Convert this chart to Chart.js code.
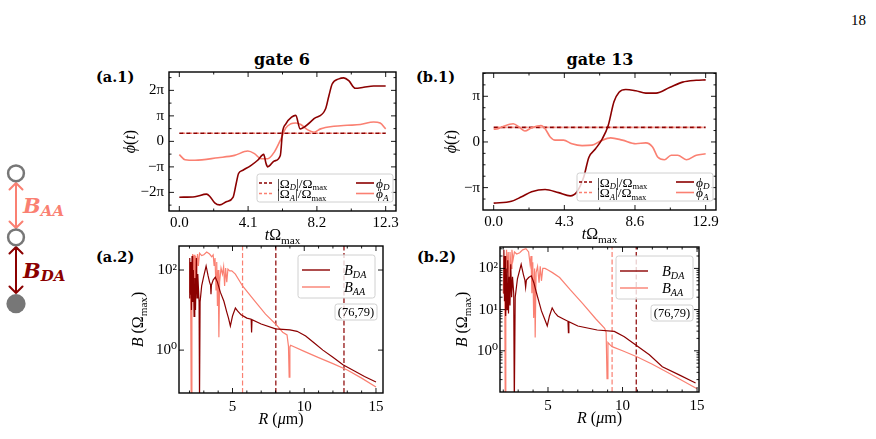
<!DOCTYPE html>
<html lang="en">
<head>
<meta charset="UTF-8">
<script src="https://cdn.jsdelivr.net/npm/chart.js"></script>
<style>
  html, body { margin: 0; background: #fff; }
  #page { position: relative; width: 876px; height: 439px; overflow: hidden; font-family: "Liberation Serif", "DejaVu Serif", serif; color: #000; }
  #page canvas, .txt, #sketch { position: absolute; }
  .txt { white-space: nowrap; line-height: 1; }
  .head { font-family: "DejaVu Serif", serif; font-weight: bold; font-size: 16px; width: 200px; text-align: center; }
  .tag { font-family: "DejaVu Serif", serif; font-weight: bold; font-size: 14.5px; }
</style>
</head>
<body>
<div id="page">
  <div class="txt" style="left:851px;top:13px;font-size:15px">18</div>
  <div class="txt head" style="left:182px;top:52px">gate 6</div>
  <div class="txt head" style="left:500px;top:52px">gate 13</div>
  <div class="txt tag" style="left:96px;top:70px">(a.1)</div>
  <div class="txt tag" style="left:416px;top:70px">(b.1)</div>
  <div class="txt tag" style="left:96px;top:250px">(a.2)</div>
  <div class="txt tag" style="left:417px;top:250px">(b.2)</div>

  <svg id="sketch" style="left:0;top:0" width="90" height="439">
    <g fill="none" stroke-width="2" stroke-linecap="round" stroke-linejoin="round">
      <path d="M16 183 V228 M9.5 189.5 L16 183 L22.5 189.5 M9.5 221.5 L16 228 L22.5 221.5" stroke="#fa8072"/>
      <path d="M16 247 V293 M9.5 253.5 L16 247 L22.5 253.5 M9.5 286.5 L16 293 L22.5 286.5" stroke="#8b0000"/>
    </g>
    <circle cx="16" cy="173.3" r="7.9" fill="#fff" stroke="#777" stroke-width="2.5"/>
    <circle cx="16" cy="237.3" r="7.9" fill="#fff" stroke="#777" stroke-width="2.5"/>
    <circle cx="16" cy="303.7" r="9.6" fill="#777"/>
    <text x="23" y="213" font-family="DejaVu Serif" font-weight="bold" font-style="italic" font-size="21" fill="#fa8072">B<tspan font-size="15" dy="3">AA</tspan></text>
    <text x="23" y="278" font-family="DejaVu Serif" font-weight="bold" font-style="italic" font-size="21" fill="#8b0000">B<tspan font-size="15" dy="3">DA</tspan></text>
  </svg>

  <canvas id="c1" width="327" height="195" style="left:89px;top:56px"></canvas>
  <canvas id="c2" width="333" height="193" style="left:403px;top:57px"></canvas>
  <canvas id="c3" width="304" height="203" style="left:99px;top:230px"></canvas>
  <canvas id="c4" width="299" height="201" style="left:420px;top:231px"></canvas>
</div>

<script>
// ---- gate 6, phases (units of pi) vs t*Omega_max
const tD6 = [0, 0.93, 1.62, 1.81, 2.11, 2.41, 2.8, 3.2, 3.39, 3.53, 3.79, 4.28, 4.67, 5.03, 5.17, 5.27, 5.66, 6.02, 6.15, 6.35, 6.69, 6.94, 7.2, 7.44, 8.03, 8.72, 8.92, 9.11, 9.51, 9.8, 10.1, 10.49, 10.99, 11.58, 12.3];
const phiD6 = [-2.19, -2.17, -2.07, -2.15, -2.41, -2.49, -2.37, -2.2, -1.65, -1.26, -1.13, -0.94, -0.74, -0.51, -0.87, -1.0, -0.77, -0.55, 0.36, 0.69, 0.95, 1.02, 0.49, 0.56, 0.89, 1.28, 1.8, 2.25, 2.45, 2.49, 2.38, 2.08, 2.12, 2.17, 2.17];
const tA6 = [0, 0.34, 0.93, 2.31, 3.29, 4.08, 4.48, 4.87, 5.27, 5.66, 6.06, 6.35, 6.65, 6.94, 7.24, 7.63, 8.03, 8.42, 9.21, 10.0, 10.79, 11.58, 11.97, 12.3];
const phiA6 = [-0.52, -0.72, -0.74, -0.64, -0.55, -0.38, -0.48, -0.68, -0.68, -0.42, 0.10, 0.53, 0.69, 0.72, 0.66, 0.46, 0.36, 0.49, 0.59, 0.63, 0.66, 0.76, 0.72, 0.49];
const tOm6 = [0, 12.3];
const omega6 = [0.32, 0.32];
const tTicks6 = [0, 4.1, 8.2, 12.3];
const phiTicks6 = [-2, -1, 0, 1, 2];

// ---- gate 13, phases
const tD13 = [0, 1.08, 1.7, 2.31, 3.13, 3.95, 4.66, 5.07, 5.48, 5.79, 6.2, 6.61, 6.97, 7.32, 7.63, 8.04, 8.65, 9.26, 9.88, 10.7, 11.5, 12.33, 12.9];
const phiD13 = [-1.34, -1.3, -1.2, -1.09, -1.04, -1.11, -1.18, -1.09, -0.77, -0.34, -0.15, 0.07, 0.36, 0.88, 1.09, 1.15, 1.12, 1.07, 1.07, 1.19, 1.31, 1.35, 1.36];
const tA13 = [0, 0.27, 0.57, 1.19, 1.6, 1.9, 2.31, 2.88, 3.13, 3.44, 3.74, 4.25, 4.76, 5.38, 5.99, 6.5, 7.12, 7.83, 8.65, 9.26, 9.67, 9.98, 10.39, 10.8, 11.2, 11.72, 12.33, 12.9];
const phiA13 = [0.28, 0.29, 0.34, 0.40, 0.31, 0.24, 0.31, 0.36, 0.29, 0.11, 0.04, 0.04, -0.04, -0.08, -0.07, 0.02, 0.09, 0.04, -0.04, -0.02, -0.11, -0.33, -0.39, -0.29, -0.29, -0.39, -0.29, -0.26];
const tOm13 = [0, 12.9];
const omega13 = [0.32, 0.32];
const tTicks13 = [0, 4.3, 8.6, 12.9];
const phiTicks13 = [-1, 0, 1];

// ---- gate 6, couplings B (Omega_max) vs R (um)
const rAA6 = [1.98, 2.03, 2.08, 2.12, 2.17, 2.22, 2.27, 2.32, 2.38, 2.43, 2.5, 2.56, 2.62, 2.7, 2.85, 3.0, 3.2, 3.4, 3.55, 3.65, 3.72, 3.78, 3.85, 3.9, 3.95, 4.0, 4.05, 4.1, 4.2, 4.3, 4.38, 4.45, 4.52, 4.6, 4.68, 4.8, 4.95, 5.2, 5.7, 6.5, 7.3, 8.0, 8.5, 8.8, 8.9, 8.95, 9.0, 9.05, 10, 11, 12, 13, 14, 15];
const bAA6 = [28, 158, 40, 0.05, 79, 251, 63, 240, 32, 224, 79, 251, 126, 263, 229, 240, 282, 251, 214, 240, 126, 200, 32, 158, 12.6, 100, 2.1, 50, 112, 79, 120, 40, 112, 50, 105, 95, 95, 79, 40, 17.8, 7.9, 4.5, 2.8, 2.4, 1.26, 0.21, 1.2, 1.32, 0.93, 0.65, 0.46, 0.32, 0.2, 0.12];
const rDA6 = [1.98, 2.02, 2.06, 2.1, 2.14, 2.18, 2.22, 2.27, 2.32, 2.37, 2.42, 2.48, 2.53, 2.58, 2.63, 2.67, 2.7, 2.74, 2.85, 3.0, 3.16, 3.3, 3.4, 3.47, 3.5, 3.53, 3.65, 3.8, 3.95, 4.15, 4.4, 4.6, 4.72, 4.85, 5.0, 5.2, 5.35, 5.6, 6.0, 6.3, 6.33, 6.36, 7.0, 8.0, 9.0, 9.5, 10.1, 10.7, 11.3, 12.0, 12.7, 13.5, 14.2, 15];
const bDA6 = [20, 200, 25, 158, 10, 224, 16, 100, 7, 63, 10, 200, 20, 79, 32, 16, 0.05, 16, 40, 71, 126, 71, 50, 42, 25, 42, 56, 66, 50, 28, 16.6, 8.9, 6.3, 4.0, 7.1, 11.2, 9.5, 7.6, 6.3, 5.9, 2.75, 5.75, 4.5, 3.4, 3.2, 2.95, 2.24, 1.5, 1.0, 0.66, 0.43, 0.3, 0.22, 0.16];
const cutAA6 = [5.7];
const cutDA6 = [8.02, 12.77];
const bRange6 = [0.085, 398];

// ---- gate 13, couplings
const rAA13 = [2.0, 2.05, 2.1, 2.13, 2.17, 2.22, 2.27, 2.33, 2.4, 2.45, 2.52, 2.58, 2.65, 2.75, 2.9, 3.1, 3.3, 3.52, 3.7, 3.8, 3.86, 3.92, 3.98, 4.04, 4.1, 4.14, 4.2, 4.3, 4.4, 4.48, 4.56, 4.65, 4.8, 5.0, 5.3, 5.78, 6.5, 7.33, 8.2, 8.8, 8.9, 8.96, 9.02, 9.15, 9.3, 10, 11, 12, 13, 14, 15];
const bAA13 = [25, 200, 32, 0.05, 100, 282, 79, 251, 40, 251, 100, 282, 158, 251, 224, 240, 282, 302, 251, 126, 200, 25, 141, 6.3, 100, 2.1, 79, 112, 45, 112, 50, 100, 100, 91, 79, 60, 30, 14, 6, 3.5, 2.8, 0.21, 1.58, 1.41, 1.26, 1.0, 0.71, 0.47, 0.3, 0.19, 0.12];
const rDA13 = [2.0, 2.04, 2.08, 2.12, 2.16, 2.2, 2.25, 2.3, 2.35, 2.4, 2.45, 2.5, 2.56, 2.62, 2.7, 2.74, 2.8, 2.95, 3.2, 3.35, 3.45, 3.5, 3.55, 3.7, 3.88, 4.05, 4.22, 4.56, 4.8, 4.95, 5.1, 5.28, 5.45, 5.65, 6.0, 6.34, 6.37, 6.4, 7.0, 8.3, 9.45, 10.12, 10.89, 11.8, 12.67, 13.8, 14.9];
const bDA13 = [25, 282, 16, 200, 7, 100, 10, 158, 8, 63, 12.6, 126, 20, 63, 25, 0.05, 20, 56, 126, 71, 52, 35, 52, 60, 66, 45, 26, 9.3, 5.6, 4.0, 7.0, 11, 8.5, 7.0, 6.0, 5.2, 2.75, 5.1, 4.0, 3.2, 2.95, 2.2, 1.38, 0.8, 0.41, 0.26, 0.166];
const cutAA13 = [9.3];
const cutDA13 = [10.92];
const bRange13 = [0.1, 331];

const rTicks = [5, 10, 15];
const bTicks6 = [1, 100];
const bTicks13 = [1, 10, 100];

const FAM = '"Liberation Serif", "DejaVu Serif", serif';
const DARK = '#8b0000';
const SAL = '#fa8072';

const pts = (xs, ys) => xs.map((x, k) => ({ x, y: ys[k] }));

// text with italic / subscript pieces, drawn left to right
function rich(ctx, parts, x, y, size, align, sub) {
  const sr = sub || 0.7;
  const fonts = parts.map(p => (p.i ? 'italic ' : '') + (p.s ? size * sr : size) + 'px ' + FAM);
  let w = 0;
  parts.forEach((p, k) => { ctx.font = fonts[k]; w += ctx.measureText(p.t).width; });
  let cx = align === 'center' ? x - w / 2 : align === 'right' ? x - w : x;
  ctx.textAlign = 'left';
  ctx.textBaseline = 'alphabetic';
  parts.forEach((p, k) => {
    ctx.font = fonts[k];
    const dy = p.s === -1 ? size * 0.22 : p.s === 1 ? -size * 0.4 : 0;
    ctx.fillText(p.t, cx, y + dy);
    cx += ctx.measureText(p.t).width;
  });
}

function legendBox(ctx, x, y, w, h) {
  ctx.beginPath();
  if (ctx.roundRect) ctx.roundRect(x, y, w, h, 2.5); else ctx.rect(x, y, w, h);
  ctx.fillStyle = 'rgba(255,255,255,0.8)';
  ctx.fill();
  ctx.strokeStyle = '#d0d0d0';
  ctx.lineWidth = 1;
  ctx.stroke();
}

function sample(ctx, x0, x1, y, color, dash, lw) {
  ctx.beginPath();
  ctx.setLineDash(dash);
  ctx.strokeStyle = color;
  ctx.lineWidth = lw;
  ctx.moveTo(x0, y);
  ctx.lineTo(x1, y);
  ctx.stroke();
  ctx.setLineDash([]);
}

const OM_D = [{ t: '|Ω' }, { t: 'D', i: 1, s: -1 }, { t: '|/Ω' }, { t: 'max', s: -1 }];
const OM_A = [{ t: '|Ω' }, { t: 'A', i: 1, s: -1 }, { t: '|/Ω' }, { t: 'max', s: -1 }];
const PH_D = [{ t: 'ϕ', i: 1 }, { t: 'D', i: 1, s: -1 }];
const PH_A = [{ t: 'ϕ', i: 1 }, { t: 'A', i: 1, s: -1 }];
const B_DA = [{ t: 'B', i: 1 }, { t: 'DA', i: 1, s: -1 }];
const B_AA = [{ t: 'B', i: 1 }, { t: 'AA', i: 1, s: -1 }];

function phiLegend(ctx, a) {
  const w = 136, h = 28, L = a.right - 3 - w, T = a.bottom - 9 - h;
  legendBox(ctx, L, T, w, h);
  const r1 = T + 9, r2 = T + 19.5;
  sample(ctx, L + 2, L + 17, r1, DARK, [3, 2], 1.6);
  ctx.fillStyle = '#000';
  rich(ctx, OM_D, L + 20, r1 + 4.5, 13.5, 'left', 0.64);
  sample(ctx, L + 2, L + 17, r2, SAL, [3, 2], 1.6);
  ctx.fillStyle = '#000';
  rich(ctx, OM_A, L + 20, r2 + 4.5, 13.5, 'left', 0.64);
  sample(ctx, L + 99, L + 117, r1, DARK, [], 1.6);
  ctx.fillStyle = '#000';
  rich(ctx, PH_D, L + 119, r1 + 4.5, 13.5, 'left', 0.68);
  sample(ctx, L + 99, L + 117, r2, SAL, [], 1.6);
  ctx.fillStyle = '#000';
  rich(ctx, PH_A, L + 119, r2 + 4.5, 13.5, 'left', 0.68);
}

function bLegend(ctx, a, gap) {
  const w = 77, h = 43, L = a.right - gap - w, T = a.top + 9;
  legendBox(ctx, L, T, w, h);
  sample(ctx, L + 4, L + 32, T + 15, DARK, [], 1.4);
  ctx.fillStyle = '#000';
  rich(ctx, B_DA, L + 46, T + 20, 14.5);
  sample(ctx, L + 4, L + 32, T + 32, SAL, [], 1.4);
  ctx.fillStyle = '#000';
  rich(ctx, B_AA, L + 46, T + 37, 14.5);
  const tw = 42, th = 16, tL = a.right - 6 - tw, tT = a.top + 58;
  legendBox(ctx, tL, tT, tw, th);
  ctx.fillStyle = '#000';
  ctx.font = '12.5px ' + FAM;
  ctx.textAlign = 'center';
  ctx.textBaseline = 'alphabetic';
  ctx.fillText('(76,79)', tL + tw / 2, tT + 12);
}

function minorLin(majors, div, lo, hi) {
  const step = (majors[1] - majors[0]) / div;
  const out = [];
  let v = majors[0] - step * Math.floor((majors[0] - lo) / step);
  for (; v <= hi + 1e-9; v += step) {
    if (!majors.some(m => Math.abs(m - v) < step / 10)) out.push(v);
  }
  return out;
}

function minorLog(lo, hi) {
  const out = [];
  for (let e = -2; e <= 3; e++) {
    for (let m = 2; m <= 9; m++) {
      const v = m * Math.pow(10, e);
      if (v > lo && v < hi) out.push(v);
    }
  }
  return out;
}

const PHI_T = [{ t: 'ϕ', i: 1 }, { t: '(' }, { t: 't', i: 1 }, { t: ')' }];
const TIME_T = [{ t: 't', i: 1 }, { t: 'Ω' }, { t: 'max', s: -1 }];
const B_T = [{ t: 'B', i: 1 }, { t: ' (Ω' }, { t: 'max', s: -1 }, { t: ')' }];
const R_T = [{ t: 'R', i: 1 }, { t: ' (' }, { t: 'μ', i: 1 }, { t: 'm)' }];

const DECOR = {
  c1: { xMajor: tTicks6, xDiv: 2, yMajor: phiTicks6, yDiv: 2, yTitle: PHI_T, yDx: -34, xTitle: TIME_T, xDy: 29, legend: 'phi' },
  c2: { xMajor: tTicks13, xDiv: 2, yMajor: phiTicks13, yDiv: 4, yTitle: PHI_T, yDx: -27, xTitle: TIME_T, xDy: 29, legend: 'phi' },
  c3: { xMajor: rTicks, xDiv: 5, yMajor: bTicks6, log: false, noMinorY: true, yTitle: B_T, yDx: -36, xTitle: R_T, xDy: 31, legend: 'b', gap: 8 },
  c4: { xMajor: rTicks, xDiv: 5, yMajor: bTicks13, log: true, yTitle: B_T, yDx: -33, xTitle: R_T, xDy: 31, legend: 'b', gap: 6 }
};

const frame = {
  id: 'frame',
  afterDatasetsDraw(chart) {
    const d = DECOR[chart.canvas.id];
    const { ctx, chartArea: a } = chart;
    const x = chart.scales.x, y = chart.scales.y;
    ctx.save();
    ctx.strokeStyle = '#000';
    ctx.lineWidth = 0.9;
    ctx.beginPath();
    const xt = (v, len) => {
      const p = x.getPixelForValue(v);
      ctx.moveTo(p, a.bottom); ctx.lineTo(p, a.bottom - len);
      ctx.moveTo(p, a.top); ctx.lineTo(p, a.top + len);
    };
    const yt = (v, len) => {
      const p = y.getPixelForValue(v);
      ctx.moveTo(a.left, p); ctx.lineTo(a.left + len, p);
      ctx.moveTo(a.right, p); ctx.lineTo(a.right - len, p);
    };
    d.xMajor.forEach(v => xt(v, 5));
    minorLin(d.xMajor, d.xDiv, x.min, x.max).forEach(v => xt(v, 2.5));
    d.yMajor.forEach(v => yt(v, 5));
    if (d.log) minorLog(y.min, y.max).forEach(v => yt(v, 2.5));
    else if (!d.noMinorY) minorLin(d.yMajor, d.yDiv, y.min, y.max).forEach(v => yt(v, 2.5));
    ctx.stroke();
    ctx.lineWidth = 1.4;
    ctx.strokeRect(a.left, a.top, a.right - a.left, a.bottom - a.top);

    if (d.legend === 'phi') phiLegend(ctx, a); else bLegend(ctx, a, d.gap);

    ctx.fillStyle = '#000';
    rich(ctx, d.xTitle, (a.left + a.right) / 2, a.bottom + d.xDy, 16, 'center');
    ctx.save();
    ctx.translate(a.left + d.yDx, (a.top + a.bottom) / 2);
    ctx.rotate(-Math.PI / 2);
    rich(ctx, d.yTitle, 0, 0, 16, 'center');
    ctx.restore();
    ctx.restore();
  }
};

const piLabel = v => v === 0 ? '0' : (v < 0 ? '−' : '') + (Math.abs(v) === 1 ? '' : Math.abs(v)) + 'π';
const powLabel = v => ({ 1: '10⁰', 10: '10¹', 100: '10²' })[v] || '';

function axis(opts) {
  return {
    type: opts.type || 'linear',
    min: opts.min,
    max: opts.max,
    bounds: 'data',
    grid: { display: false, drawTicks: false },
    border: { display: false },
    ticks: { color: '#000', font: { family: FAM, size: 15 }, padding: opts.pad, maxRotation: 0, autoSkip: false, callback: opts.label },
    afterBuildTicks: s => { s.ticks = opts.ticks.map(v => ({ value: v })); },
    afterFit: s => { if (opts.w) s.width = opts.w; if (opts.h) s.height = opts.h; }
  };
}

function makeChart(id, datasets, xOpt, yOpt) {
  new Chart(document.getElementById(id), {
    type: 'line',
    data: { datasets },
    options: {
      responsive: false,
      animation: false,
      layout: { padding: { top: 16, right: 20, left: 0, bottom: 0 } },
      plugins: { legend: { display: false }, tooltip: { enabled: false } },
      elements: { point: { radius: 0 } },
      scales: { x: axis(xOpt), y: axis(yOpt) }
    },
    plugins: [frame]
  });
}

const phiLine = (xs, ys, color) => ({ data: pts(xs, ys), borderColor: color, borderWidth: 1.6, cubicInterpolationMode: 'monotone', clip: 0 });
const dashH = (xs, ys, color, dash, off) => ({ data: pts(xs, ys), borderColor: color, borderWidth: 1.6, borderDash: dash, borderDashOffset: off, clip: 0 });
const bLine = (xs, ys, color) => ({ data: pts(xs, ys), borderColor: color, borderWidth: 1.2, clip: 0 });
const cut = (xv, range, color) => ({ data: [{ x: xv, y: range[0] }, { x: xv, y: range[1] }], borderColor: color, borderWidth: 1.2, borderDash: [5, 2.5], clip: 0 });

// (a.1)
makeChart('c1', [
  phiLine(tD6, phiD6, DARK),
  phiLine(tA6, phiA6, SAL),
  dashH(tOm6, omega6, DARK, [4, 3], 0),
  dashH(tOm6, omega6, SAL, [3, 4], 4)
], { min: -0.615, max: 12.915, ticks: tTicks6, label: v => v.toFixed(1), pad: 3, h: 40 },
   { min: -2.73, max: 2.72, ticks: phiTicks6, label: piLabel, pad: 5, w: 80 });

// (b.1)
makeChart('c2', [
  phiLine(tD13, phiD13, DARK),
  phiLine(tA13, phiA13, SAL),
  dashH(tOm13, omega13, DARK, [4, 3], 0),
  dashH(tOm13, omega13, SAL, [3, 4], 4)
], { min: -0.65, max: 13.53, ticks: tTicks13, label: v => v.toFixed(1), pad: 3, h: 40 },
   { min: -1.49, max: 1.51, ticks: phiTicks13, label: piLabel, pad: 3, w: 80 });

// (a.2)
makeChart('c3', [
  bLine(rDA6, bDA6, DARK),
  bLine(rAA6, bAA6, SAL),
  ...cutDA6.map(v => cut(v, bRange6, DARK)),
  ...cutAA6.map(v => cut(v, bRange6, SAL))
], { min: 1.27, max: 15.49, ticks: rTicks, label: v => String(v), pad: 5, h: 40 },
   { type: 'logarithmic', min: bRange6[0], max: bRange6[1], ticks: bTicks6, label: powLabel, pad: 2, w: 80 });

// (b.2)
makeChart('c4', [
  bLine(rDA13, bDA13, DARK),
  bLine(rAA13, bAA13, SAL),
  ...cutDA13.map(v => cut(v, bRange13, DARK)),
  ...cutAA13.map(v => cut(v, bRange13, SAL))
], { min: 1.78, max: 15.13, ticks: rTicks, label: v => String(v), pad: 5, h: 40 },
   { type: 'logarithmic', min: bRange13[0], max: bRange13[1], ticks: bTicks13, label: powLabel, pad: 2, w: 80 });
</script>
</body>
</html>
